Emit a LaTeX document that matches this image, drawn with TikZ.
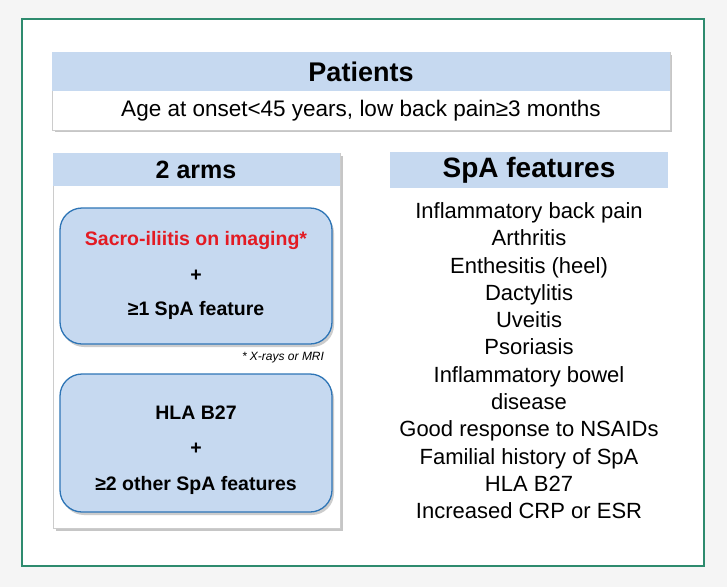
\documentclass[tikz,border=0pt]{standalone}
\usepackage{fontspec}
\setmainfont{Liberation Sans}
\definecolor{hdr}{HTML}{C6D9F0}
\definecolor{grn}{HTML}{2E8B6E}
\definecolor{bx}{HTML}{C6D9F0}
\definecolor{bxline}{HTML}{2E75B6}
\definecolor{red1}{HTML}{E31B23}
\begin{document}
\begin{tikzpicture}[x=1pt,y=-1pt,
 panel/.style={fill=white,draw=gray!40,line width=0.3pt},
 hband/.style={fill=hdr},
 arm/.style={rounded corners=22pt,fill=bx,draw=bxline,line width=1.3pt},
 lab/.style={font=\fontsize{19.5}{22}\selectfont\bfseries}]
\fill[gray!8] (0,0) rectangle (727,587);
\useasboundingbox (0,0) rectangle (727,587);
\draw[grn,line width=1.5pt,fill=white] (22,19) rectangle (704,566);
% Patients
\fill[gray!45] (55,55) rectangle (672,132);
\draw[panel] (52,52) rectangle (670,130);
\fill[hband] (52,52) rectangle (670,91);
\node[font=\fontsize{27}{30}\selectfont\bfseries] (pat) at (361,72) {Patients};
\node[font=\fontsize{22.5}{26}\selectfont] (age) at (361,111) {Age at onset<45 years, low back pain≥3 months};
% left panel
\fill[gray!45] (56,156) rectangle (343,531);
\draw[panel] (53,153) rectangle (340,528);
\fill[hband] (53,153) rectangle (340,186);
\node[font=\fontsize{25}{28}\selectfont\bfseries] (arms) at (196,170) {2 arms};
\fill[gray!40,rounded corners=22pt] (62,211) rectangle (334,347);
\draw[arm] (60,208) rectangle (332,344);
\node[lab,text=red1] (sac) at (196,240) {Sacro-iliitis on imaging*};
\node[lab] (p1) at (196,276) {+};
\node[lab] (f1) at (196,310) {≥1 SpA feature};
\node[font=\fontsize{12}{14}\selectfont\itshape] (xr) at (283,358) {* X-rays or MRI};
\fill[gray!40,rounded corners=22pt] (62,377) rectangle (334,515);
\draw[arm] (60,374) rectangle (332,512);
\node[lab] (hla) at (196,413) {HLA B27};
\node[lab] (p2) at (196,449) {+};
\node[lab] (f2) at (196,485) {≥2 other SpA features};
% right
\fill[hband] (390,152) rectangle (668,188);
\node[font=\fontsize{28}{32}\selectfont\bfseries] (spa) at (529,170) {SpA features};
\node[font=\fontsize{22}{27.3}\selectfont,align=center,anchor=north] (list) at (529,199) {Inflammatory back pain\\Arthritis\\Enthesitis (heel)\\Dactylitis\\Uveitis\\Psoriasis\\Inflammatory bowel\\disease\\Good response to NSAIDs\\Familial history of SpA\\HLA B27\\Increased CRP or ESR};
\end{tikzpicture}
\end{document}
